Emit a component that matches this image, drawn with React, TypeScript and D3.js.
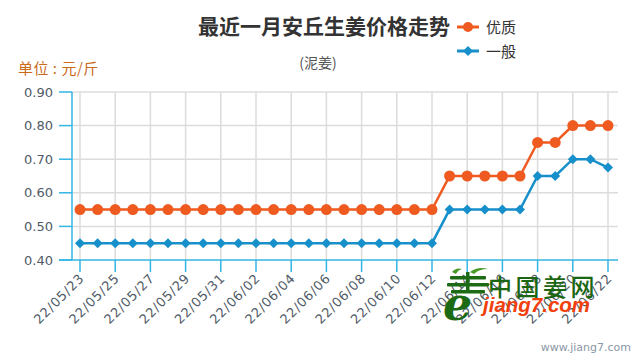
import React from "react";
import * as d3 from "d3";

const dates = [
  "22/05/23","22/05/24","22/05/25","22/05/26","22/05/27","22/05/28","22/05/29","22/05/30","22/05/31",
  "22/06/01","22/06/02","22/06/03","22/06/04","22/06/05","22/06/06","22/06/07","22/06/08","22/06/09",
  "22/06/10","22/06/11","22/06/12","22/06/13","22/06/14","22/06/15","22/06/16","22/06/17","22/06/18",
  "22/06/19","22/06/20","22/06/21","22/06/22",
];
const premium = [
  0.55,0.55,0.55,0.55,0.55,0.55,0.55,0.55,0.55,0.55,0.55,0.55,0.55,0.55,0.55,0.55,0.55,0.55,0.55,0.55,0.55,
  0.65,0.65,0.65,0.65,0.65,0.75,0.75,0.80,0.80,0.80,
];
const ordinary = [
  0.45,0.45,0.45,0.45,0.45,0.45,0.45,0.45,0.45,0.45,0.45,0.45,0.45,0.45,0.45,0.45,0.45,0.45,0.45,0.45,0.45,
  0.55,0.55,0.55,0.55,0.55,0.65,0.65,0.70,0.70,0.675,
];
const yTicks = [0.4, 0.5, 0.6, 0.7, 0.8, 0.9];
const seriesNames = ["优质", "一般"];

const ORANGE = "#ee5a1f";
const BLUE = "#178fca";
const AXIS = "#33b5e5";
const GRID = "#dcdcdc";
const TXT = "#505a66";

export default function App() {
  const W = 640, H = 360;
  const left = 72, right = 618, top = 92, bottom = 260;
  const x = d3.scalePoint<string>().domain(dates).range([80, 608]);
  const y = d3.scaleLinear().domain([0.4, 0.9]).range([bottom, top]);
  const line = d3.line<number>().x((_, i) => x(dates[i])!).y((d) => y(d));
  const labeled = dates.filter((_, i) => i % 2 === 0);
  const diamond = (cx: number, cy: number, r: number) =>
    `M${cx},${cy - r}L${cx + r},${cy}L${cx},${cy + r}L${cx - r},${cy}Z`;
  const font = "'DejaVu Sans', Verdana, sans-serif";
  const cjk = "'Noto Sans CJK SC', 'Noto Sans', sans-serif";

  return (
    <svg width={W} height={H} style={{ position: "absolute", left: 0, top: 0, background: "#fff" }}>
      <rect width={W} height={H} fill="#fff" />
      {/* title */}
      <text x={324} y={34} textAnchor="middle" fontFamily={cjk} fontWeight="bold" fontSize={21} fill="#333">
        最近一月安丘生姜价格走势
      </text>
      <text x={318} y={68} textAnchor="middle" fontFamily={cjk} fontSize={14} fill="#555">
        (泥姜)
      </text>
      {/* legend */}
      <g>
        <line x1={457} x2={479} y1={27} y2={27} stroke={ORANGE} strokeWidth={3} />
        <circle cx={468} cy={27} r={5} fill={ORANGE} />
        <text x={486} y={32.5} fontFamily={cjk} fontSize={15} fill="#333">{seriesNames[0]}</text>
        <line x1={457} x2={479} y1={51} y2={51} stroke={BLUE} strokeWidth={3} />
        <path d={diamond(468, 51, 5)} fill={BLUE} />
        <text x={486} y={56.5} fontFamily={cjk} fontSize={15} fill="#333">{seriesNames[1]}</text>
      </g>
      <text x={18} y={73.5} fontFamily={cjk} fontSize={15} fill="#cc6a1c" letterSpacing={0.5}>单位 : 元/斤</text>

      {/* grid */}
      {yTicks.filter((t) => t > 0.4).map((t) => (
        <line key={t} x1={left} x2={right} y1={y(t)} y2={y(t)} stroke={GRID} strokeWidth={1.5} />
      ))}
      {labeled.map((d) => (
        <line key={d} x1={x(d)} x2={x(d)} y1={top} y2={bottom} stroke={GRID} strokeWidth={1.5} />
      ))}

      {/* y axis */}
      <line x1={left} x2={left} y1={top} y2={bottom} stroke={AXIS} strokeWidth={1.5} />
      {yTicks.map((t) => (
        <g key={t}>
          <line x1={59} x2={left} y1={y(t)} y2={y(t)} stroke={AXIS} strokeWidth={1.5} />
          <text x={53} y={y(t) + 4.5} textAnchor="end" fontFamily={font} fontSize={13} fill={TXT}>
            {t.toFixed(2)}
          </text>
        </g>
      ))}
      {/* x axis */}
      <line x1={59} x2={right} y1={bottom} y2={bottom} stroke={AXIS} strokeWidth={1.5} />
      {labeled.map((d) => (
        <g key={d}>
          <line x1={x(d)} x2={x(d)} y1={bottom} y2={272} stroke={AXIS} strokeWidth={1.5} />
          <text
            transform={`translate(${x(d)! + 5},${279}) rotate(-45)`}
            textAnchor="end"
            fontFamily={font}
            fontSize={13}
            letterSpacing={0.8}
            fill={TXT}
          >
            {d}
          </text>
        </g>
      ))}

      {/* series */}
      <path d={line(premium)!} fill="none" stroke={ORANGE} strokeWidth={2.5} />
      {premium.map((v, i) => (
        <circle key={i} cx={x(dates[i])} cy={y(v)} r={5.5} fill={ORANGE} />
      ))}
      <path d={line(ordinary)!} fill="none" stroke={BLUE} strokeWidth={2.5} />
      {ordinary.map((v, i) => (
        <path key={i} d={diamond(x(dates[i])!, y(v), 5)} fill={BLUE} />
      ))}

      {/* watermark */}
      <g>
        <g fill="#1d6a14">
          <path d="M452,272 q4,-5 10,-3 q-4,1 -6,5z" fill="#4a9a2a" />
          <path d="M470,272 q8,-6 18,-3 q-9,0 -14,5z" fill="#4a9a2a" />
          <rect x={450} y={276} width={36} height={3.5} rx={1} />
          <rect x={447} y={283} width={42} height={3.5} rx={1} />
          <rect x={451} y={290} width={34} height={3.5} rx={1} />
          <rect x={466} y={272} width={3.5} height={20} />
        </g>
        <text x={443} y={320} fontFamily="'DejaVu Serif', serif" fontStyle="italic" fontWeight="bold" fontSize={46} fill="#1d6a14">
          e
        </text>
        <text x={488} y={296} fontFamily={cjk} fontWeight="500" fontSize={24} fill="#1a6612" letterSpacing={3.5}>
          中国姜网
        </text>
        <text x={483} y={312} fontFamily="'Liberation Sans', Arial, sans-serif" fontStyle="italic" fontWeight="bold" fontSize={20.5} fill="#f2400d">
          jiang7.com
        </text>
      </g>
      <text x={631} y={351} textAnchor="end" fontFamily={font} fontSize={11} fill="#8a97a6">
        www.jiang7.com
      </text>
    </svg>
  );
}
